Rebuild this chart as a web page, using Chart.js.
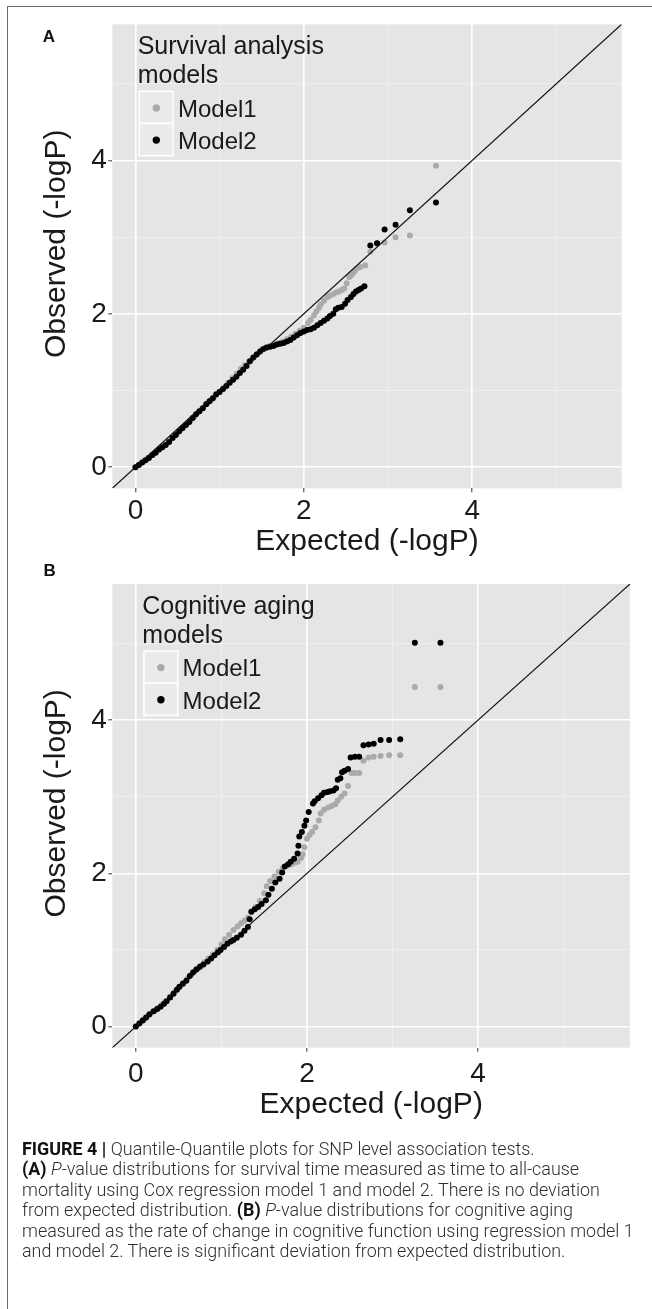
<!DOCTYPE html>
<html>
<head>
<meta charset="utf-8">
<script src="https://cdn.jsdelivr.net/npm/chart.js@4.4.1/dist/chart.umd.min.js"></script>
<style>
  body { margin: 0; background: #fff; width: 652px; height: 1309px; position: relative; overflow: hidden; }
  canvas { position: absolute; left: 0; }
  #frame { position: absolute; left: 7px; top: 6px; width: 660px; height: 1320px;
           border-left: 1.5px solid #6a6a6a; border-top: 1.5px solid #6a6a6a; }
  #caption { position: absolute; left: 22px; top: 1139px; line-height: 20.4px; white-space: nowrap;
             color: #2e2e2e; font-family: Roboto, "Liberation Sans", sans-serif; font-weight: 300; font-size: 16px; }
  #caption b { font-weight: 700; color: #111; }
</style>
</head>
<body>
<div id="frame"></div>
<canvas id="qqA" width="652" height="570" style="top:0"></canvas>
<canvas id="qqB" width="652" height="580" style="top:555px"></canvas>
<div id="caption"><b>FIGURE 4 |</b> Quantile-Quantile plots for SNP level association tests.<br><b>(A)</b> <i>P</i>-value distributions for survival time measured as time to all-cause<br>mortality using Cox regression model 1 and model 2. There is no deviation<br>from expected distribution. <b>(B)</b> <i>P</i>-value distributions for cognitive aging<br><span id="longLine">measured as the rate of change in cognitive function using regression model 1</span><br>and model 2. There is significant deviation from expected distribution.</div>
<script>
// axis limits (0..5.5 with 5% expansion) and the y = x reference line
const axisMin = -0.275;
const axisMax = 5.775;
const diagX = [-0.275, 5.775];
const diagY = [-0.275, 5.775];

const seriesNames = ['Model1', 'Model2'];

// panel A - survival analysis models (expected / observed -logP)
const aModel1X = [0.00,0.05,0.10,0.15,0.20,0.25,0.30,0.35,0.40,0.45,0.50,0.55,0.60,0.65,0.70,0.75,0.80,0.85,0.90,0.95,
  1.00,1.05,1.10,1.15,1.20,1.25,1.30,1.35,1.40,1.45,1.50,1.55,1.60,1.65,1.70,1.75,1.80,1.85,1.90,1.95,
  2.00,2.05,2.08,2.12,2.15,2.18,2.20,2.24,2.28,2.31,2.35,2.39,2.42,2.45,2.48,2.51,2.54,2.57,2.60,2.63,
  2.67,2.73,2.79,2.87,2.96,3.09,3.26,3.57];
const aModel1Y = [0.00,0.04,0.08,0.12,0.16,0.21,0.25,0.29,0.34,0.39,0.45,0.50,0.55,0.61,0.66,0.72,0.77,0.83,0.88,0.93,
  0.99,1.04,1.10,1.16,1.22,1.28,1.33,1.38,1.43,1.48,1.53,1.56,1.58,1.60,1.62,1.64,1.67,1.70,1.74,1.78,
  1.82,1.88,1.92,1.98,2.03,2.08,2.12,2.17,2.22,2.24,2.26,2.28,2.29,2.31,2.33,2.40,2.48,2.51,2.55,2.59,
  2.61,2.63,2.81,2.92,2.93,3.00,3.02,3.93];
const aModel2X = [0.00,0.04,0.08,0.12,0.16,0.20,0.24,0.28,0.32,0.36,0.40,0.44,0.48,0.52,0.56,0.60,0.64,0.68,0.72,0.76,
  0.80,0.84,0.88,0.92,0.96,1.00,1.04,1.08,1.12,1.16,1.20,1.24,1.28,1.32,1.36,1.40,1.44,1.48,1.52,1.56,
  1.60,1.64,1.68,1.72,1.76,1.80,1.84,1.88,1.92,1.96,2.00,2.04,2.08,2.12,2.16,2.20,2.24,2.28,2.31,2.35,
  2.38,2.41,2.45,2.49,2.52,2.56,2.59,2.62,2.65,2.68,2.72,2.79,2.87,2.96,3.09,3.26,3.57];
const aModel2Y = [0.00,0.03,0.06,0.09,0.12,0.16,0.19,0.23,0.26,0.29,0.33,0.38,0.42,0.47,0.51,0.55,0.59,0.64,0.69,0.73,
  0.77,0.82,0.86,0.90,0.95,0.98,1.02,1.06,1.10,1.14,1.18,1.23,1.27,1.32,1.38,1.43,1.47,1.51,1.54,1.56,
  1.57,1.58,1.60,1.61,1.62,1.64,1.66,1.69,1.72,1.75,1.77,1.79,1.80,1.82,1.85,1.88,1.91,1.94,1.97,2.00,
  2.06,2.08,2.09,2.13,2.18,2.22,2.26,2.29,2.31,2.33,2.36,2.89,2.92,3.10,3.16,3.35,3.45];

// panel B - cognitive aging models
const bModel1X = [0.00,0.05,0.10,0.15,0.20,0.25,0.30,0.35,0.40,0.45,0.50,0.55,0.60,0.65,0.70,0.75,0.80,0.85,0.90,0.95,
  1.00,1.04,1.09,1.14,1.19,1.23,1.27,1.31,1.35,1.40,1.45,1.50,1.53,1.57,1.62,1.67,1.72,1.77,1.82,1.86,
  1.89,1.93,1.95,1.97,2.00,2.03,2.06,2.10,2.14,2.16,2.20,2.25,2.29,2.33,2.36,2.40,2.44,2.48,2.52,2.56,
  2.61,2.66,2.72,2.78,2.86,2.96,3.09,3.26,3.56];
const bModel1Y = [0.00,0.05,0.10,0.15,0.20,0.24,0.28,0.33,0.39,0.45,0.51,0.57,0.62,0.68,0.74,0.79,0.84,0.89,0.94,1.00,
  1.07,1.14,1.20,1.26,1.31,1.35,1.38,1.42,1.50,1.56,1.64,1.74,1.83,1.90,1.96,2.02,2.07,2.10,2.12,2.14,
  2.15,2.20,2.25,2.34,2.45,2.50,2.54,2.60,2.69,2.78,2.83,2.86,2.88,2.90,2.95,3.00,3.04,3.14,3.31,3.31,
  3.31,3.47,3.51,3.52,3.53,3.54,3.54,4.43,4.43];
const bModel2X = [0.00,0.04,0.08,0.12,0.16,0.21,0.25,0.29,0.33,0.36,0.40,0.44,0.48,0.51,0.55,0.59,0.63,0.67,0.71,0.75,
  0.79,0.84,0.88,0.92,0.96,0.99,1.03,1.07,1.11,1.14,1.18,1.23,1.27,1.31,1.33,1.35,1.39,1.43,1.47,1.52,
  1.55,1.59,1.63,1.68,1.71,1.74,1.78,1.81,1.85,1.89,1.90,1.91,1.94,1.97,1.99,2.02,2.07,2.09,2.13,2.17,
  2.20,2.24,2.27,2.31,2.34,2.36,2.39,2.41,2.44,2.48,2.51,2.56,2.61,2.66,2.72,2.78,2.86,2.96,3.09,3.26,3.56];
const bModel2Y = [0.00,0.04,0.08,0.12,0.16,0.20,0.23,0.26,0.30,0.33,0.38,0.43,0.48,0.52,0.56,0.60,0.66,0.71,0.75,0.78,
  0.81,0.85,0.89,0.93,0.97,1.00,1.04,1.08,1.11,1.13,1.16,1.20,1.25,1.30,1.40,1.50,1.53,1.56,1.60,1.65,
  1.72,1.80,1.88,1.93,2.01,2.09,2.12,2.15,2.19,2.26,2.36,2.48,2.54,2.62,2.69,2.80,2.91,2.94,2.98,3.02,
  3.05,3.06,3.07,3.08,3.11,3.22,3.24,3.32,3.34,3.36,3.51,3.52,3.52,3.67,3.68,3.69,3.74,3.74,3.75,5.01,5.01];

const seriesColors = ['#aaaaaa', '#000000'];
const fontFam = '"Liberation Sans", Arial, sans-serif';

function pts(xs, ys) {
  return xs.map((x, i) => ({ x: x, y: ys[i] }));
}

// grey panel, panel letter and ggplot-like legend
const qqDeco = {
  id: 'qqDeco',
  beforeDraw(chart, args, opts) {
    const a = chart.chartArea;
    const ctx = chart.ctx;
    ctx.save();
    ctx.fillStyle = '#e5e5e5';
    ctx.fillRect(a.left, a.top, a.right - a.left, a.bottom - a.top);
    ctx.restore();
  },
  afterDraw(chart, args, opts) {
    const a = chart.chartArea;
    const ctx = chart.ctx;
    ctx.save();
    ctx.fillStyle = '#111';
    ctx.font = 'bold 17px ' + fontFam;
    ctx.textBaseline = 'alphabetic';
    ctx.fillText(opts.letter, opts.letterX, opts.letterY);

    let x = a.left + opts.dx;
    ctx.font = '25px ' + fontFam;
    ctx.fillStyle = '#1a1a1a';
    opts.title.forEach((t, i) => ctx.fillText(t, x, a.top + 30 + i * 28.7));

    chart.data.datasets.filter(d => d.inLegend).forEach((d, i) => {
      let top = a.top + 67 + i * 32.2;
      ctx.fillStyle = '#ebebeb';
      ctx.fillRect(x + 1.6, top, 34, 32.2);
      ctx.strokeStyle = '#ffffff';
      ctx.lineWidth = 1.5;
      ctx.strokeRect(x + 1.6, top, 34, 32.2);
      ctx.beginPath();
      ctx.arc(x + 18.6, top + 16.6, 3.7, 0, Math.PI * 2);
      ctx.fillStyle = d.backgroundColor;
      ctx.fill();
      ctx.fillStyle = '#1a1a1a';
      ctx.font = '24px ' + fontFam;
      ctx.fillText(d.label, x + 40.3, top + 25.3);
    });
    ctx.restore();
  }
};

function axisOpts(text, titlePad, tickPad, fit) {
  return {
    type: 'linear',
    min: axisMin,
    max: axisMax,
    afterFit: fit,
    border: { display: false },
    grid: {
      color: c => (c.tick && c.tick.value % 2 === 0) ? '#ffffff' : '#f1f1f1',
      lineWidth: c => (c.tick && c.tick.value % 2 === 0) ? 1.6 : 0.8,
      tickColor: c => (c.tick && c.tick.value % 2 === 0) ? '#333333' : 'rgba(0,0,0,0)',
      tickLength: 4,
      tickWidth: 1
    },
    ticks: {
      stepSize: 1,
      includeBounds: false,
      autoSkip: false,
      maxRotation: 0,
      padding: tickPad,
      color: '#1a1a1a',
      font: { family: fontFam, size: 28 },
      callback: v => v % 2 === 0 ? String(v) : ''
    },
    title: {
      display: true,
      text: text,
      color: '#1a1a1a',
      font: { family: fontFam, size: 30 },
      padding: titlePad
    }
  };
}

function qqChart(id, g, m1x, m1y, m2x, m2y) {
  let ctx = document.getElementById(id).getContext('2d');
  let h = ctx.canvas.height;
  return new Chart(ctx, {
    data: {
      datasets: [
        {
          type: 'scatter',
          label: seriesNames[0],
          inLegend: true,
          data: pts(m1x, m1y),
          backgroundColor: seriesColors[0],
          borderWidth: 0,
          pointRadius: 3,
          order: 1
        },
        {
          type: 'scatter',
          label: seriesNames[1],
          inLegend: true,
          data: pts(m2x, m2y),
          backgroundColor: seriesColors[1],
          borderWidth: 0,
          pointRadius: 3,
          order: 0
        },
        {
          type: 'line',
          data: pts(diagX, diagY),
          borderColor: '#111111',
          borderWidth: 1.2,
          pointRadius: 0,
          order: -1
        }
      ]
    },
    options: {
      responsive: false,
      animation: false,
      devicePixelRatio: 1,
      layout: { padding: { left: 0, top: g.top, right: g.right, bottom: 0 } },
      scales: {
        x: Object.assign(axisOpts('Expected (-logP)', { top: 0, bottom: g.xTitlePad }, g.xTickPad,
          s => { s.height = h - g.bottom; }), { position: 'bottom' }),
        y: Object.assign(axisOpts('   Observed (-logP)', { top: 38.6, bottom: 0 }, 1.5,
          s => { s.width = 112.3; }), { position: 'left' })
      },
      plugins: {
        legend: { display: false },
        tooltip: { enabled: false },
        qqDeco: g.deco
      }
    },
    plugins: [qqDeco]
  });
}

qqChart('qqA', {
  top: 24.3, right: 30.4, bottom: 488.3, xTitlePad: 10.3, xTickPad: 2,
  deco: { letter: 'A', letterX: 42.7, letterY: 41.7, dx: 25.4, title: ['Survival analysis', 'models'] }
}, aModel1X, aModel1Y, aModel2X, aModel2Y);

qqChart('qqB', {
  top: 29, right: 22, bottom: 492.7, xTitlePad: 12, xTickPad: 5.6,
  deco: { letter: 'B', letterX: 43.6, letterY: 21.2, dx: 30, title: ['Cognitive aging', 'models'] }
}, bModel1X, bModel1Y, bModel2X, bModel2Y);

// fit caption size so the long line spans the column
let meas = document.createElement('canvas').getContext('2d');
meas.font = '300 100px Roboto';
let longW = meas.measureText(document.getElementById('longLine').textContent).width;
document.getElementById('caption').style.fontSize = (100 * 612 / longW).toFixed(2) + 'px';
</script>
</body>
</html>
